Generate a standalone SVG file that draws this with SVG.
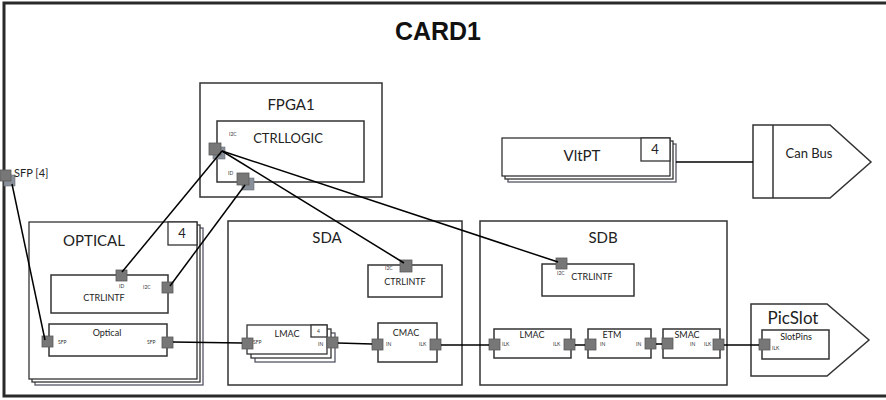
<svg xmlns="http://www.w3.org/2000/svg" width="886" height="400" viewBox="0 0 886 400">
<style>
.box{fill:#fff;stroke:#333;stroke-width:1.5}
.stk{fill:#fff;stroke:#333;stroke-width:1.3}
.port{fill:#777;stroke:#5a5a5a;stroke-width:0.8}
.sh{fill:#8a9099;stroke:#6a707a;stroke-width:0.6}
.ln{fill:none;stroke:#000;stroke-width:1.5}
text{font-family:Lato,"Open Sans","Liberation Sans",sans-serif;fill:#222}
.t15{font-size:15px}
.t13{font-size:13px}
.t10{font-size:10px}
.t9{font-size:9px}
.pl{font-size:5px;fill:#333}
</style>
<rect x="0" y="0" width="886" height="400" fill="#fff"/>
<g id="card1">
<rect x="4" y="3" width="890" height="393" fill="#fff" stroke="#2a2a2a" stroke-width="3"/>
<text x="438" y="40" text-anchor="middle" font-size="26" font-weight="bold" style="font-family:'Liberation Sans',Arial,sans-serif;fill:#111" textLength="86" lengthAdjust="spacingAndGlyphs">CARD1</text>
</g>
<g id="sfp4">
<rect class="sh" x="4" y="175" width="11" height="11"/>
<rect class="port" x="0" y="170" width="11" height="11"/>
<text class="t10" x="14" y="177" style="font-size:11px">SFP [4]</text>
</g>
<g id="fpga1">
<rect class="box" x="200" y="83" width="182" height="114"/>
<text class="t15" x="291" y="110" text-anchor="middle">FPGA1</text>
<g id="ctrllogic">
<rect class="box" x="217" y="121" width="147" height="61"/>
<text class="t13" x="288" y="143" text-anchor="middle">CTRLLOGIC</text>
<text class="pl" x="229" y="136">I2C</text>
<text class="pl" x="228" y="175">ID</text>
<rect class="sh" x="213" y="147" width="12" height="12"/>
<rect class="port" x="209" y="143" width="12" height="12"/>
<rect class="sh" x="242" y="178" width="12" height="12"/>
<rect class="port" x="237" y="173" width="12" height="12"/>
</g>
</g>
<g id="vltpt">
<rect class="stk" x="508" y="144" width="168" height="38" fill="#fff" style="stroke:#556"/>
<rect class="stk" x="505" y="141" width="168" height="38"/>
<rect class="stk" x="502" y="138" width="168" height="38"/>
<rect class="stk" x="641" y="138" width="29" height="23"/>
<text class="t13" x="655" y="154" text-anchor="middle">4</text>
<text class="t15" x="582" y="161" text-anchor="middle">VltPT</text>
</g>
<g id="canbus">
<path class="box" d="M753,125 H830 L871,162 L830,198 H753 Z"/>
<line x1="773" y1="125" x2="773" y2="198" stroke="#333" stroke-width="1.5"/>
<text class="t13" x="809" y="158" text-anchor="middle">Can Bus</text>
</g>
<g id="optical">
<rect class="stk" x="35" y="228" width="168" height="157" style="stroke:#556"/>
<rect class="stk" x="32" y="225" width="168" height="157"/>
<rect class="stk" x="29" y="222" width="168" height="157"/>
<rect class="stk" x="168" y="222" width="29" height="23"/>
<text class="t13" x="182" y="238" text-anchor="middle">4</text>
<text class="t15" x="94" y="246" text-anchor="middle">OPTICAL</text>
<g id="optical-ctrlintf">
<rect class="box" x="51" y="275" width="117" height="38"/>
<text class="t9" x="104" y="301" text-anchor="middle">CTRLINTF</text>
<rect class="port" x="116" y="270" width="11" height="11"/>
<text class="pl" x="119" y="288">ID</text>
<rect class="port" x="162" y="282" width="11" height="11"/>
<text class="pl" x="143" y="289">I2C</text>
</g>
<g id="optical-optical">
<rect class="box" x="49" y="324" width="118" height="32"/>
<text class="t9" x="107" y="336" text-anchor="middle">Optical</text>
<rect class="port" x="42" y="336" width="11" height="11"/>
<text class="pl" x="58" y="344">SFP</text>
<rect class="port" x="162" y="337" width="11" height="11"/>
<text class="pl" x="147" y="344">SFP</text>
</g>
</g>
<g id="sda">
<rect class="box" x="228" y="221" width="234" height="164"/>
<text class="t15" x="327" y="243" text-anchor="middle">SDA</text>
<g id="sda-ctrlintf">
<rect class="box" x="368" y="265" width="74" height="32"/>
<text class="t9" x="405" y="285" text-anchor="middle">CTRLINTF</text>
<rect class="port" x="400" y="260" width="12" height="12"/>
<text class="pl" x="385" y="270">I2C</text>
</g>
<g id="sda-lmac">
<rect class="stk" x="255" y="333" width="80" height="29" style="stroke:#556"/>
<rect class="stk" x="251" y="329" width="80" height="29"/>
<rect class="stk" x="247" y="325" width="80" height="29"/>
<rect class="stk" x="311" y="325" width="16" height="12" stroke-width="1"/>
<text class="pl" x="317" y="333">4</text>
<text class="t9" x="287" y="337" text-anchor="middle">LMAC</text>
<rect class="port" x="242" y="338" width="11" height="11"/>
<text class="pl" x="253" y="344">SFP</text>
<rect class="port" x="327" y="337" width="11" height="11"/>
<text class="pl" x="318" y="346">IN</text>
</g>
<g id="sda-cmac">
<rect class="box" x="378" y="323" width="59" height="39"/>
<text class="t9" x="406" y="336" text-anchor="middle">CMAC</text>
<rect class="port" x="372" y="339" width="11" height="11"/>
<text class="pl" x="386" y="346">IN</text>
<rect class="port" x="430" y="339" width="11" height="11"/>
<text class="pl" x="419" y="346">ILK</text>
</g>
</g>
<g id="sdb">
<rect class="box" x="480" y="221" width="247" height="164"/>
<text class="t15" x="603" y="243" text-anchor="middle">SDB</text>
<g id="sdb-ctrlintf">
<rect class="box" x="542" y="264" width="92" height="32"/>
<text class="t9" x="592" y="280" text-anchor="middle">CTRLINTF</text>
<rect class="port" x="556" y="258" width="11" height="11"/>
<text class="pl" x="557" y="275">I2C</text>
</g>
<g id="sdb-lmac">
<rect class="box" x="494" y="329" width="77" height="29"/>
<text class="t9" x="532" y="338" text-anchor="middle">LMAC</text>
<rect class="port" x="489" y="339" width="11" height="11"/>
<text class="pl" x="502" y="346">ILK</text>
<rect class="port" x="564" y="339" width="11" height="11"/>
<text class="pl" x="553" y="346">ILK</text>
</g>
<g id="etm">
<rect class="box" x="588" y="329" width="63" height="29"/>
<text class="t9" x="612" y="338" text-anchor="middle">ETM</text>
<rect class="port" x="585" y="339" width="11" height="11"/>
<text class="pl" x="600" y="346">IN</text>
<rect class="port" x="645" y="338" width="11" height="11"/>
<text class="pl" x="636" y="346">IN</text>
</g>
<g id="smac">
<rect class="box" x="663" y="329" width="57" height="29"/>
<text class="t9" x="687" y="338" text-anchor="middle">SMAC</text>
<rect class="port" x="662" y="338" width="11" height="11"/>
<text class="pl" x="690" y="346">IN</text>
<text class="pl" x="704" y="346">ILK</text>
<rect class="port" x="713" y="339" width="11" height="11"/>
</g>
</g>
<g id="picslot">
<path class="box" d="M751,304 H827 L869,340 L827,376 H751 Z"/>
<text x="793" y="324" text-anchor="middle" style="font-size:17px">PicSlot</text>
<g id="slotpins">
<rect class="box" x="762" y="330" width="67" height="29"/>
<text class="t9" x="796" y="340" text-anchor="middle">SlotPins</text>
<rect class="port" x="759" y="339" width="11" height="11"/>
<text class="pl" x="772" y="350">ILK</text>
</g>
</g>
<g id="connectors">
<line class="ln" x1="12" y1="184" x2="45" y2="340"/>
<line class="ln" x1="222" y1="151" x2="122" y2="272"/>
<line class="ln" x1="245" y1="185" x2="170" y2="286"/>
<line class="ln" x1="222" y1="151" x2="404" y2="263"/>
<line class="ln" x1="222" y1="151" x2="558" y2="262"/>
<line class="ln" x1="173" y1="342" x2="242" y2="343"/>
<line class="ln" x1="338" y1="343" x2="372" y2="344"/>
<line class="ln" x1="441" y1="345" x2="489" y2="345"/>
<line class="ln" x1="575" y1="345" x2="585" y2="345"/>
<line class="ln" x1="656" y1="344" x2="662" y2="344"/>
<line class="ln" x1="724" y1="345" x2="759" y2="345"/>
<line class="ln" x1="676" y1="162" x2="753" y2="162"/>
</g>
</svg>
